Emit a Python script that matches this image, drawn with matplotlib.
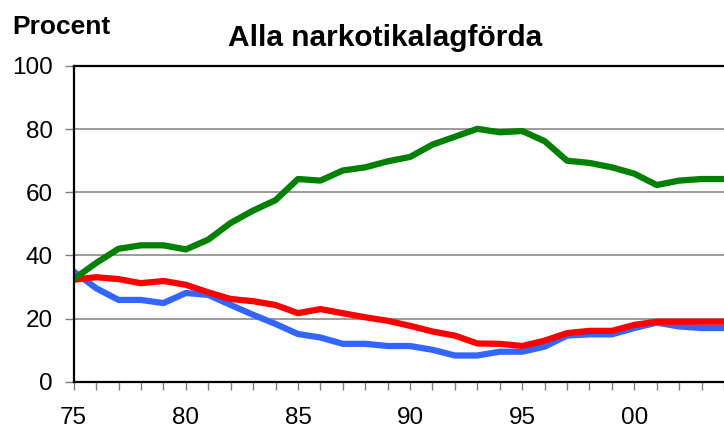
import matplotlib.pyplot as plt

plt.rcParams['font.family'] = ['Liberation Sans', 'DejaVu Sans']

# Data
years = list(range(1975, 2005))
green = [32.5, 37.6, 42.1, 43.2, 43.2, 41.9, 45.0, 50.3, 54.2, 57.5,
         64.2, 63.7, 66.9, 67.9, 69.8, 71.2, 75.1, 77.6, 80.1, 79.0,
         79.4, 76.2, 70.0, 69.3, 67.9, 65.9, 62.3, 63.7, 64.2, 64.2]
red = [32.3, 33.1, 32.5, 31.2, 31.9, 30.7, 28.3, 26.2, 25.5, 24.3,
       21.7, 23.0, 21.7, 20.4, 19.3, 17.7, 15.9, 14.6, 12.1, 12.0,
       11.3, 13.0, 15.4, 16.1, 16.1, 18.0, 19.0, 19.0, 19.0, 19.0]
blue = [34.9, 29.6, 25.9, 25.9, 24.9, 28.1, 27.5, 24.3, 21.2, 18.3,
        15.1, 14.0, 12.0, 12.0, 11.3, 11.3, 10.1, 8.3, 8.3, 9.5,
        9.5, 11.1, 14.6, 15.0, 15.0, 17.0, 18.7, 17.5, 17.0, 17.0]

xtick_years = [1975, 1980, 1985, 1990, 1995, 2000]
xtick_labels = ['75', '80', '85', '90', '95', '00']
yticks = [0, 20, 40, 60, 80, 100]

fig = plt.figure(figsize=(7.24, 4.28), dpi=100)
ax = fig.add_axes([0.1018, 0.1082, 0.8982, 0.7376])

# Lines
lw = 4.5
ax.plot(years, blue, color='#3366FF', linewidth=lw, solid_joinstyle='round')
ax.plot(years, red, color='#FF0000', linewidth=lw, solid_joinstyle='round')
ax.plot(years, green, color='#008000', linewidth=lw, solid_joinstyle='round')

# Axes limits and ticks
ax.set_xlim(1975, 2003.81)
ax.set_ylim(0, 100)
ax.set_yticks(yticks)
ax.set_yticklabels([str(v) for v in yticks])
ax.set_xticks(xtick_years)
ax.set_xticklabels(xtick_labels)
ax.set_xticks(years, minor=True)

ax.tick_params(axis='y', direction='out', length=6.5, width=1, color='#808080',
               labelsize=17.5, pad=8.5)
ax.tick_params(axis='x', which='both', direction='out', length=6, width=1,
               color='#808080', labelsize=17.5, pad=12)

# Gridlines
ax.yaxis.grid(True, color='#808080', linewidth=1.1)
ax.set_axisbelow(True)

# Spines
ax.spines['right'].set_visible(False)
ax.spines['left'].set_linewidth(1.6)
ax.spines['bottom'].set_linewidth(1.6)
ax.spines['top'].set_linewidth(1.6)

# Titles
fig.text(0.532, 0.8925, 'Alla narkotikalagförda', ha='center', va='baseline',
         fontsize=21.5, fontweight='bold')
fig.text(0.0175, 0.92, 'Procent', ha='left', va='baseline',
         fontsize=19, fontweight='bold')

fig.savefig('out.png', dpi=100)
